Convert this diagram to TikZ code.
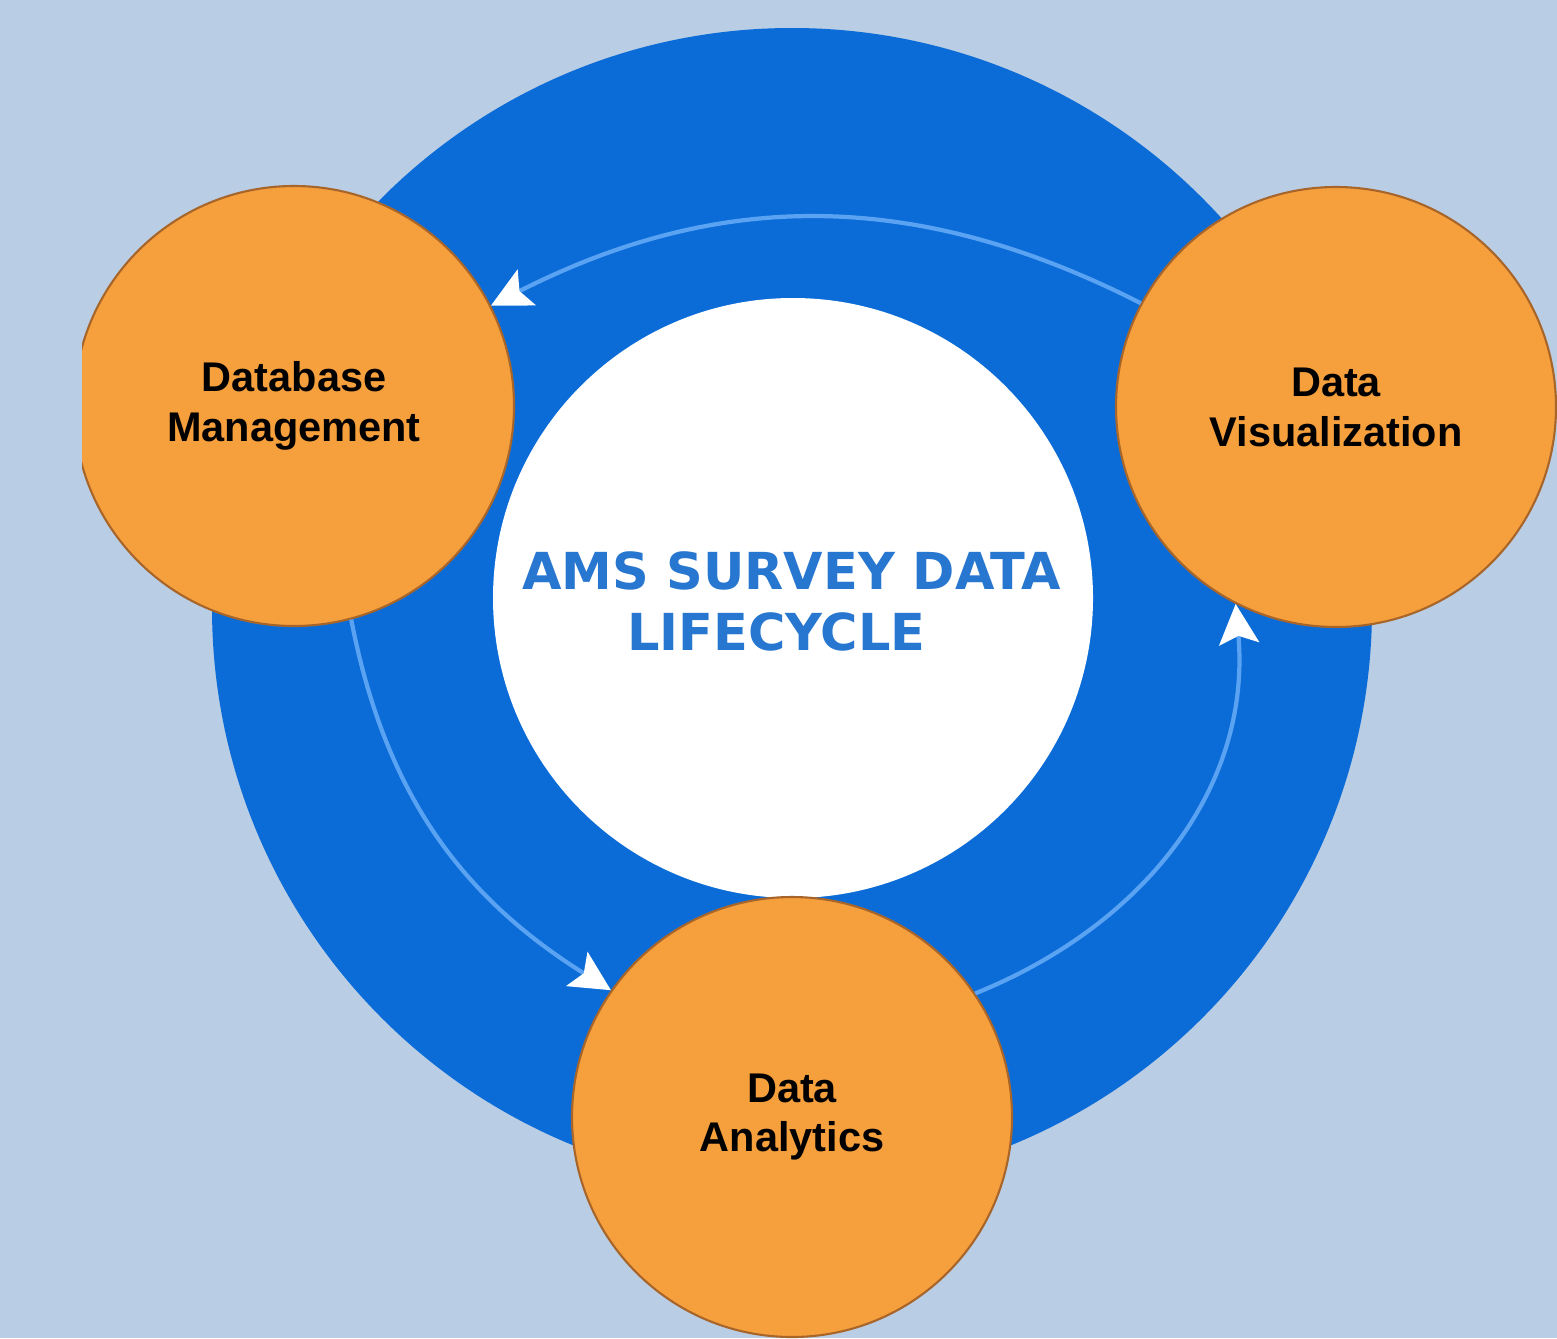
\documentclass[tikz,border=0pt]{standalone}
\usepackage{fontspec}
\setmainfont{Liberation Sans}
\newfontfamily\titlefont{DejaVu Sans}
\usepackage{xcolor}
\definecolor{PageBlue}{HTML}{B9CDE4}
\definecolor{RingBlue}{HTML}{0B6CD7}
\definecolor{ArrowBlue}{HTML}{5AA2F2}
\definecolor{TitleBlue}{HTML}{2776D0}
\definecolor{PhaseOrange}{HTML}{F6A03D}
\definecolor{PhaseEdge}{HTML}{A8652A}
\usetikzlibrary{arrows.meta}

\begin{document}
\begin{tikzpicture}[
    phase/.style={circle, draw=PhaseEdge, line width=0.6pt, fill=PhaseOrange, minimum size=4.4cm, inner sep=0pt, align=center, font=\fontsize{11.8}{14.2}\selectfont\bfseries},
    flow/.style={draw=ArrowBlue, line width=1.2pt, -{Stealth[length=4mm, width=4mm, inset=0.8mm, color=white]}}
]
    \fill[PageBlue] (0,0) rectangle (15.57,13.38);
    \useasboundingbox (0,0) rectangle (15.57,13.38);

    % blue ring with the white centre
    \fill[RingBlue] (7.92,7.30) circle (5.80);
    \node[circle, fill=white, minimum size=6cm, inner sep=0pt] (core) at (7.93,7.40) {};
    \node[align=center, text=TitleBlue, inner sep=0pt, font=\titlefont\fontsize{14.5}{17.6}\selectfont\bfseries] (title) at (7.915,7.365) {AMS SURVEY DATA\\LIFECYCLE\hspace*{3mm}};

    % the three phases
    \begin{scope}
        \clip (0.82,0) rectangle (15.57,13.38);
        \node[phase] (dbm) at (2.94,9.32) {Database\\Management};
    \end{scope}
    \node[phase] (dviz) at (13.36,9.31) {Data\\Visualization};
    \node[phase] (dana) at (7.92,2.21) {Data\\Analytics};

    \draw[flow] (dviz.152) to[out=153, in=27] (dbm.27);
    \draw[flow] (dbm.-75) to[out=-79, in=148] (dana.145);
    \draw[flow] (dana.34) to[out=22, in=-85] (dviz.-117);
\end{tikzpicture}
\end{document}
